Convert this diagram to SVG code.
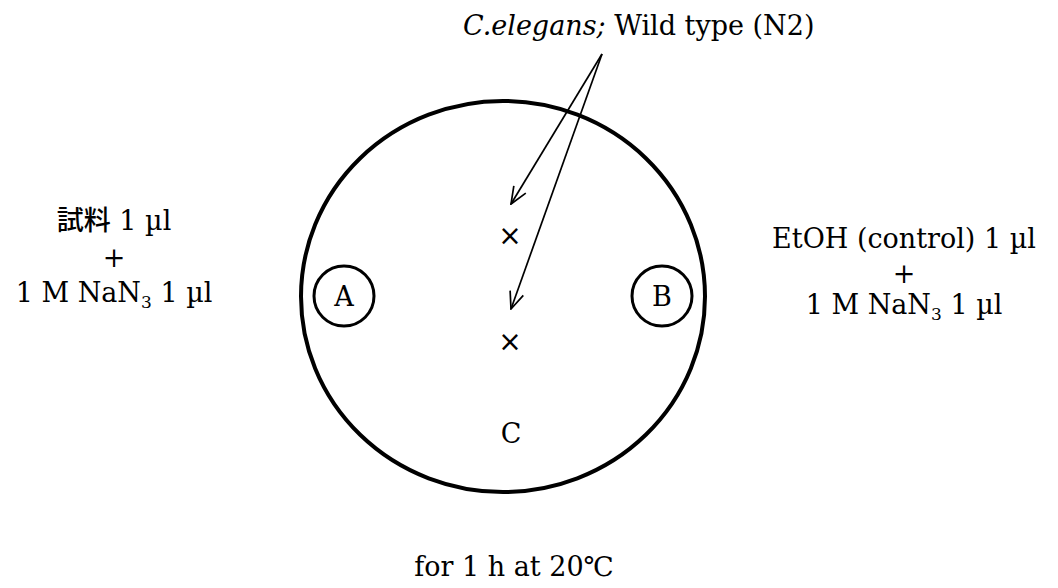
<svg xmlns="http://www.w3.org/2000/svg" width="1058" height="588" viewBox="0 0 1058 588">
<style>
.t{font-family:"DejaVu Serif","Liberation Serif","Noto Sans CJK JP",serif;font-size:27px;fill:#000}
.jp{font-family:"Noto Sans CJK JP",sans-serif;font-weight:500}
.c{text-anchor:middle}
.x{font-family:"DejaVu Sans",sans-serif;font-size:28px;text-anchor:middle;fill:#000}
.sub{font-size:17px}
.plate{fill:none;stroke:#000;stroke-width:4}
.well{fill:none;stroke:#000;stroke-width:3}
.arr{fill:none;stroke:#000;stroke-width:1.7}
</style>
<defs>
<marker id="ah" viewBox="0 0 19 16" refX="18" refY="8" markerWidth="19" markerHeight="16" markerUnits="userSpaceOnUse" orient="auto">
<path d="M1,1 L18,8 L1,15" fill="none" stroke="#000" stroke-width="1.7"/>
</marker>
</defs>
<rect width="1058" height="588" fill="#fff"/>
<g id="title">
<text class="t" x="463" y="35"><tspan font-style="italic">C.elegans;</tspan> Wild type (N2)</text>
</g>
<g id="plate">
<ellipse class="plate" cx="503" cy="296.5" rx="202" ry="195.5"/>
<text class="t c" x="511" y="443">C</text>
</g>
<g id="wellA">
<circle class="well" cx="344" cy="296" r="30"/>
<text class="t c" x="344" y="306">A</text>
</g>
<g id="wellB">
<circle class="well" cx="662" cy="296" r="30"/>
<text class="t c" x="662" y="306">B</text>
</g>
<g id="worm1"><text class="x" x="510" y="245">×</text></g>
<g id="worm2"><text class="x" x="510" y="351">×</text></g>
<g id="labelA">
<text class="t c" x="114" y="230"><tspan class="jp">試料</tspan> 1 µl</text>
<text class="t c" x="114" y="267">+</text>
<text class="t c" x="114" y="302">1 M NaN<tspan class="sub" dy="6">3</tspan><tspan dy="-6"> 1 µl</tspan></text>
</g>
<g id="labelB">
<text class="t c" x="904" y="248">EtOH (control) 1 µl</text>
<text class="t c" x="904" y="283">+</text>
<text class="t c" x="904" y="314">1 M NaN<tspan class="sub" dy="6">3</tspan><tspan dy="-6"> 1 µl</tspan></text>
</g>
<g id="footer">
<text class="t c" x="514" y="576">for 1 h at 20℃</text>
</g>
<g id="connectors">
<line class="arr" x1="602" y1="54" x2="511" y2="204" marker-end="url(#ah)"/>
<line class="arr" x1="602" y1="54" x2="511" y2="309" marker-end="url(#ah)"/>
</g>
</svg>
